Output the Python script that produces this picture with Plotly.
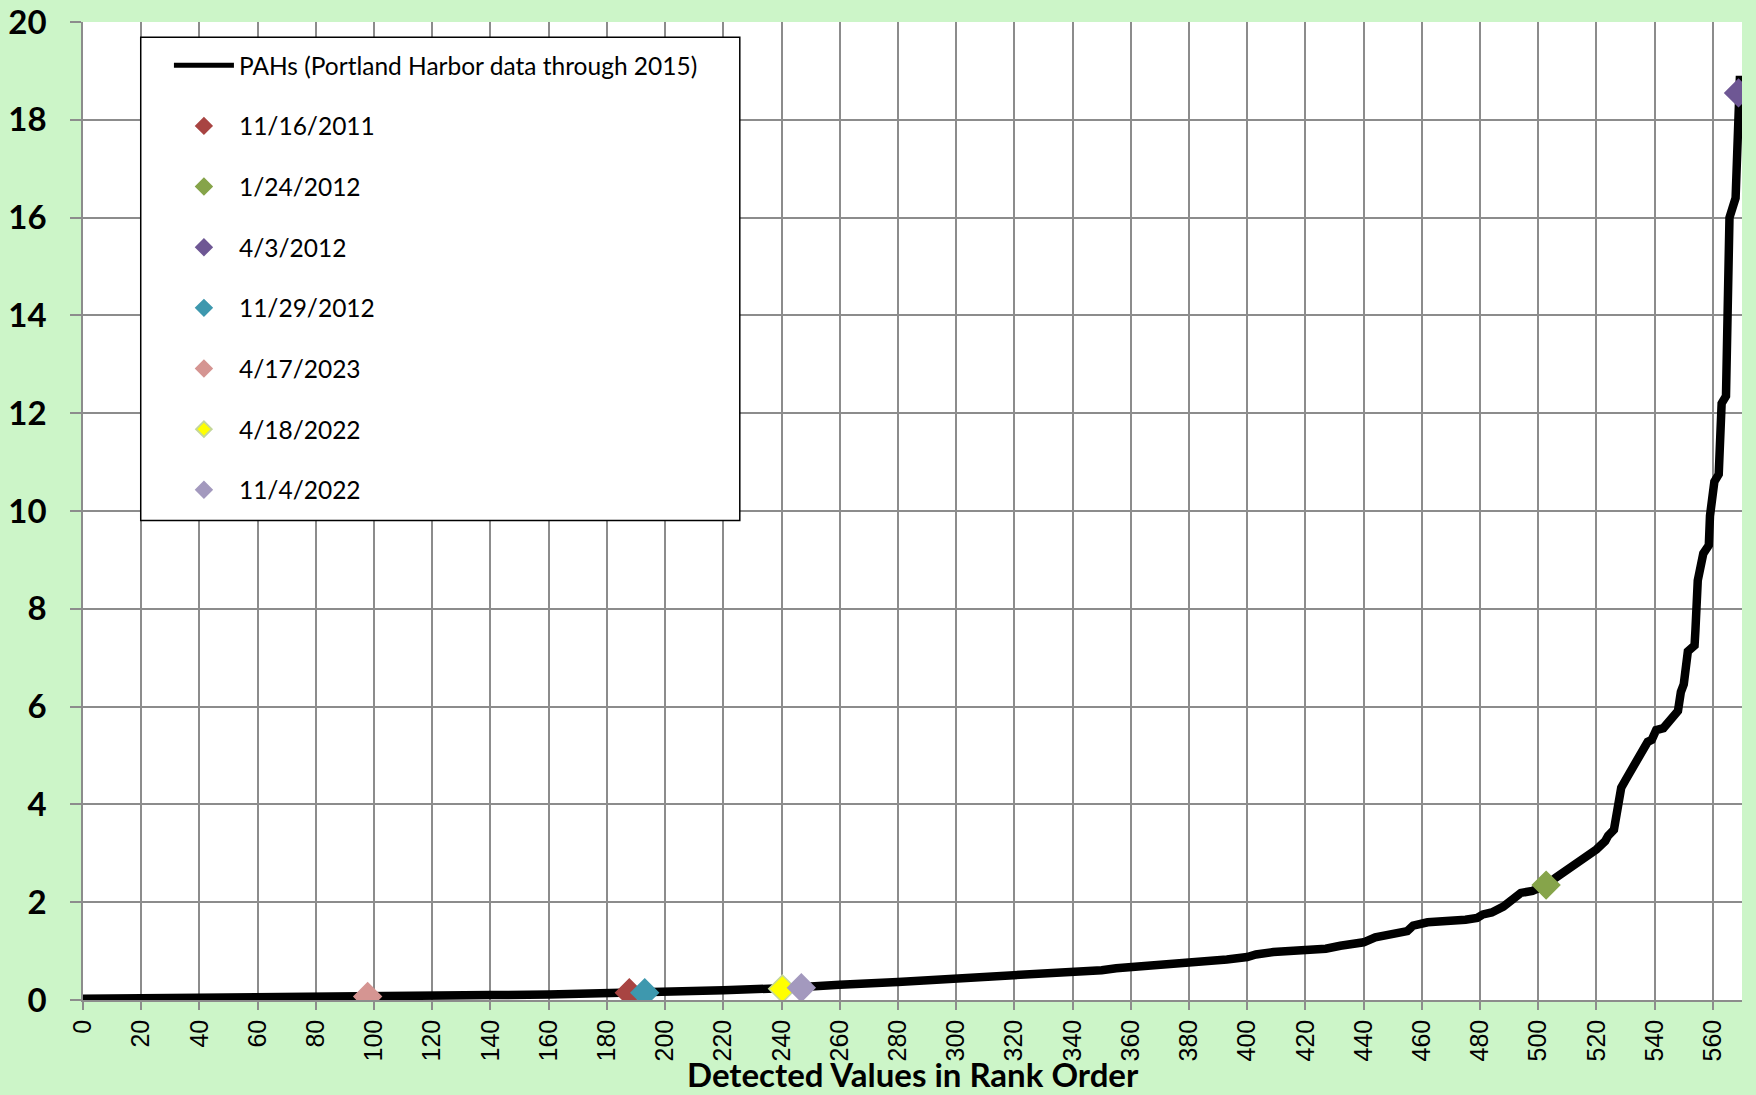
import plotly.graph_objects as go

# ---- Data ----
# Main series: PAHs (Portland Harbor data through 2015), rank vs. value
rank = [0, 20, 40, 60, 80, 100, 120, 140, 160, 180, 187, 193, 200, 212, 220,
        240, 247, 260, 280, 300, 320, 340, 350, 355, 360, 380, 393, 400, 403,
        409, 420, 427, 432, 440, 444, 450, 455, 457, 462, 475, 479, 481, 484,
        488, 491, 494, 498, 503, 506, 509, 513, 516.5, 520, 523, 524, 526,
        527.3, 528.5, 530, 532.5, 535, 536, 537.6, 539, 540.5, 543, 545, 548,
        549, 550, 551.4, 553.7, 554, 554.8, 556.7, 558.6, 559, 560.5, 562,
        563, 564.5, 565.3, 565.7, 567.8, 568.5, 569.3]
pah = [0.025, 0.03, 0.04, 0.05, 0.06, 0.07, 0.085, 0.10, 0.11, 0.13, 0.145,
       0.15, 0.16, 0.19, 0.20, 0.24, 0.25, 0.31, 0.37, 0.44, 0.50, 0.55, 0.61,
       0.65, 0.67, 0.75, 0.83, 0.88, 0.93, 0.98, 1.01, 1.05, 1.11, 1.18, 1.28,
       1.35, 1.41, 1.52, 1.59, 1.64, 1.68, 1.75, 1.79, 1.91, 2.07, 2.19, 2.23,
       2.36, 2.50, 2.62, 2.78, 2.89, 3.08, 3.25, 3.36, 3.48, 3.87, 4.34, 4.50,
       4.74, 4.97, 5.05, 5.28, 5.32, 5.52, 5.56, 5.68, 5.91, 6.30, 6.46, 7.13,
       7.25, 7.56, 8.58, 9.13, 9.30, 9.90, 10.60, 10.75, 12.20, 12.35, 14.30,
       16.00, 16.40, 18.40, 18.90]

# Individual sampling events
sample_dates = ["11/16/2011", "1/24/2012", "4/3/2012", "11/29/2012",
                "4/17/2023", "4/18/2022", "11/4/2022"]
sample_rank = [187.7, 502.7, 568.8, 193.0, 97.8, 240.3, 246.8]
sample_value = [0.15, 2.35, 18.55, 0.15, 0.07, 0.23, 0.25]
sample_colors = ["#A84442", "#86A44A", "#6E5794", "#3E98AE",
                 "#D59592", "#FFFF00", "#A399BE"]
sample_edge = ["#A84442", "#86A44A", "#6E5794", "#3E98AE",
               "#D59592", "#C4D79B", "#A399BE"]

x_tick_vals = list(range(0, 561, 20))
y_tick_vals = list(range(0, 21, 2))

series_name = "PAHs (Portland Harbor data through 2015)"
x_title = "Detected Values in Rank Order"

GREEN_BG = "#CCF5C8"
GRID = "#8C8C8C"

fig = go.Figure()
fig.add_trace(go.Scatter(
    x=rank, y=pah, mode="lines", name=series_name,
    line=dict(color="black", width=8.5), legendgroup="g0"))

for i, (d, xr, yv, c, e) in enumerate(zip(sample_dates, sample_rank,
                                          sample_value, sample_colors,
                                          sample_edge)):
    fig.add_trace(go.Scatter(
        x=[xr], y=[yv], mode="markers", name=d, legendgroup=f"g{i+1}",
        marker=dict(symbol="diamond", size=21, color=c,
                    line=dict(color=e, width=1.5))))

# legend frame
fig.add_shape(type="rect", xref="paper", yref="paper",
              x0=0.0348, x1=0.3959, y0=0.4904, y1=0.9845,
              fillcolor="white", line=dict(color="black", width=1.5),
              layer="above")

# x-axis title (placed as a paper annotation for exact positioning)
fig.add_annotation(text=x_title, xref="paper", yref="paper",
                   x=0.5, y=-0.0757, xanchor="center", yanchor="middle",
                   showarrow=False, borderpad=0,
                   font=dict(family="Lato", size=33, color="black",
                             weight="bold"))

fig.update_layout(
    width=1756, height=1095,
    paper_bgcolor=GREEN_BG, plot_bgcolor="white",
    margin=dict(l=83, r=14, t=22, b=95, autoexpand=False),
    showlegend=True,
    legend=dict(x=0.0518, y=0.9787, xanchor="left", yanchor="top",
                bgcolor="rgba(0,0,0,0)", borderwidth=0,
                font=dict(family="Lato", size=24.5, color="black"),
                itemwidth=60, tracegroupgap=25.8, traceorder="grouped",
                itemsizing="constant"),
    xaxis=dict(range=[0, 570], tickmode="array", tickvals=x_tick_vals,
               ticktext=[str(v) for v in x_tick_vals], automargin=False,
               tickangle=-90, ticks="outside", ticklen=8, tickcolor=GRID,
               tickwidth=1.5,
               showgrid=True, gridcolor=GRID, gridwidth=1.5,
               showline=True, linecolor=GRID, linewidth=1.5,
               zeroline=False, ticklabelstandoff=0,
               tickfont=dict(family="Liberation Sans", size=25, color="black")),
    yaxis=dict(range=[0, 20], tickmode="array", tickvals=y_tick_vals,
               automargin=False,
               ticks="outside", ticklen=11, tickcolor=GRID, tickwidth=1.5,
               showgrid=True, gridcolor=GRID, gridwidth=1.5,
               showline=True, linecolor=GRID, linewidth=1.5,
               zeroline=False, ticklabelstandoff=17,
               tickfont=dict(family="Lato", size=33, color="black",
                             weight="bold")),
)

fig.write_html("out.html", config={"displayModeBar": False},
               post_script="document.body.style.margin='0px';")
